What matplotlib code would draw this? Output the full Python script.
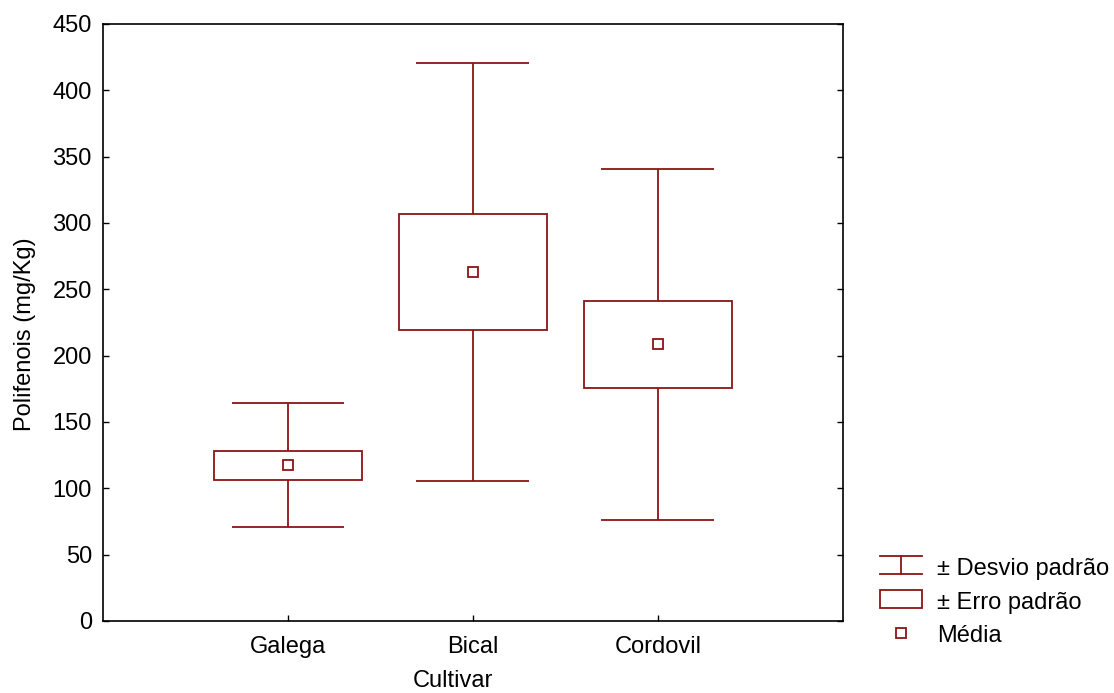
import matplotlib
matplotlib.use("Agg")
import matplotlib.pyplot as plt
from matplotlib.patches import Rectangle
from matplotlib.lines import Line2D
from matplotlib.legend_handler import HandlerBase

plt.rcParams["font.family"] = ["Liberation Sans", "DejaVu Sans"]

# data
cultivars = ["Galega", "Bical", "Cordovil"]
means = [117.5, 263.0, 208.5]
se = [11.0, 43.5, 33.0]   # +- erro padrao
sd = [46.5, 157.5, 132.0]  # +- desvio padrao

COL = "#8c1515"
BOX_W = 0.8
CAP_W = 0.61
FS = 17


class HandlerSD(HandlerBase):
    def create_artists(self, legend, orig, xd, yd, w, h, fs, trans):
        c = h / 2
        top = Line2D([-xd, -xd + w], [c + 6.5, c + 6.5], color=COL, lw=1.3, transform=trans)
        bot = Line2D([-xd, -xd + w], [c - 6.5, c - 6.5], color=COL, lw=1.3, transform=trans)
        mid = Line2D([-xd + w / 2, -xd + w / 2], [c - 6.5, c + 6.5], color=COL, lw=1.3, transform=trans)
        return [top, bot, mid]


class HandlerSE(HandlerBase):
    def create_artists(self, legend, orig, xd, yd, w, h, fs, trans):
        c = h / 2
        r = Rectangle((-xd, c - 6.5), w, 13, fill=False, ec=COL, lw=1.3, transform=trans)
        return [r]


def main():
    fig = plt.figure(figsize=(11.14, 6.93), dpi=100)
    ax = fig.add_axes([0.0925, 0.1039, 0.664, 0.8615])

    x = list(range(1, len(cultivars) + 1))
    for xi, m, s, d in zip(x, means, se, sd):
        ax.add_patch(Rectangle((xi - BOX_W / 2, m - s), BOX_W, 2 * s,
                               fill=False, ec=COL, lw=1.3, zorder=3))
        ax.vlines(xi, m + s, m + d, color=COL, lw=1.3)
        ax.vlines(xi, m - d, m - s, color=COL, lw=1.3)
        ax.hlines([m - d, m + d], xi - CAP_W / 2, xi + CAP_W / 2, color=COL, lw=1.3)
    ax.plot(x, means, ls="none", marker="s", ms=7, mfc="white", mec=COL, mew=1.3, zorder=4)

    ax.set_xlim(0, 4)
    ax.set_ylim(0, 450)
    ax.set_yticks(range(0, 451, 50))
    ax.set_xticks(x)
    ax.set_xticklabels(cultivars)
    ax.tick_params(axis="both", direction="in", length=4, width=1, labelsize=FS)
    ax.tick_params(axis="y", right=True, pad=8)
    ax.tick_params(axis="x", pad=11)
    for sp in ax.spines.values():
        sp.set_linewidth(1.2)

    ax.set_xlabel("Cultivar", fontsize=FS, labelpad=8.5)
    ax.set_ylabel("Polifenois (mg/Kg)", fontsize=FS, labelpad=12)
    ax.xaxis.label.set_x(0.473)
    ax.yaxis.label.set_y(0.481)

    h_sd = Line2D([], [])
    h_se = Rectangle((0, 0), 1, 1)
    h_m = Line2D([], [], ls="none", marker="s", ms=6.5, mfc="white", mec=COL, mew=1.3)
    fig.legend([h_sd, h_se, h_m], ["± Desvio padrão", "± Erro padrão", "Média"],
               handler_map={h_sd: HandlerSD(), h_se: HandlerSE()},
               loc="upper left", bbox_to_anchor=(880 / 1114, 1 - 557 / 693),
               frameon=False, borderpad=0, borderaxespad=0,
               fontsize=FS, handlelength=1.78, handleheight=0.9,
               handletextpad=0.65, labelspacing=0.45)

    fig.savefig("out.png", dpi=100)


if __name__ == "__main__":
    main()
